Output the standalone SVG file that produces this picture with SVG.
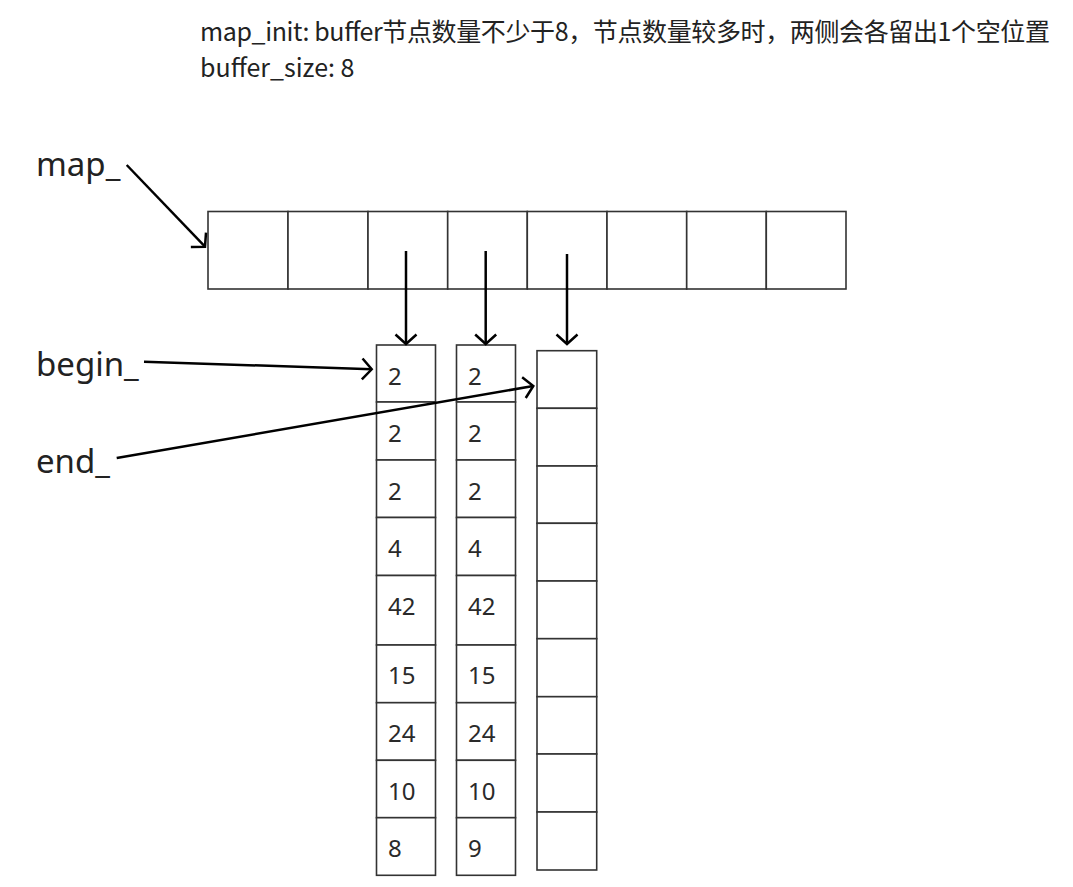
<svg xmlns="http://www.w3.org/2000/svg" width="1073" height="887" viewBox="0 0 1073 887">
<style>
.cell{fill:#fff;stroke:#333;stroke-width:1.6}
.num{font-family:"Noto Sans","Open Sans",sans-serif;font-size:24px;fill:#2a2a2a}
.lbl{font-family:"Noto Sans","Open Sans",sans-serif;font-size:33px;fill:#222}
.hdr{font-family:"Noto Sans CJK SC","Noto Sans",sans-serif;font-size:25px;fill:#222}
.arr{fill:none;stroke:#000;stroke-width:2.5;marker-end:url(#ah)}
</style>
<defs>
<marker id="ah" markerUnits="userSpaceOnUse" viewBox="-13 -13 16 26" markerWidth="16" markerHeight="26" refX="0" refY="0" orient="auto">
<path d="M-9.5,-10.5 L0,0 L-9.5,10.5" fill="none" stroke="#000" stroke-width="2.5"/>
</marker>
</defs>
<rect width="1073" height="887" fill="#fff"/>
<g id="header">
<text class="hdr" x="200" y="41" textLength="850" lengthAdjust="spacing">map_init: buffer节点数量不少于8，节点数量较多时，两侧会各留出1个空位置</text>
<text class="hdr" x="200" y="77">buffer_size: 8</text>
</g>
<g id="map">
<rect class="cell" x="208" y="211.5" width="80" height="77.5"/>
<rect class="cell" x="288" y="211.5" width="80" height="77.5"/>
<rect class="cell" x="368" y="211.5" width="79.7" height="77.5"/>
<rect class="cell" x="447.7" y="211.5" width="79.6" height="77.5"/>
<rect class="cell" x="527.3" y="211.5" width="79.7" height="77.5"/>
<rect class="cell" x="607" y="211.5" width="79.7" height="77.5"/>
<rect class="cell" x="686.7" y="211.5" width="79.6" height="77.5"/>
<rect class="cell" x="766.3" y="211.5" width="79.7" height="77.5"/>
</g>
<g id="label-map"><text class="lbl" x="36" y="176">map_</text></g>
<g id="label-begin"><text class="lbl" x="36" y="376">begin_</text></g>
<g id="label-end"><text class="lbl" x="36" y="473">end_</text></g>
<g id="buffer1">
<rect class="cell" x="376.5" y="345" width="59" height="57"/>
<rect class="cell" x="376.5" y="402" width="59" height="58"/>
<rect class="cell" x="376.5" y="460" width="59" height="57.5"/>
<rect class="cell" x="376.5" y="517.5" width="59" height="58"/>
<rect class="cell" x="376.5" y="575.5" width="59" height="69.5"/>
<rect class="cell" x="376.5" y="645" width="59" height="57.7"/>
<rect class="cell" x="376.5" y="702.7" width="59" height="57.6"/>
<rect class="cell" x="376.5" y="760.3" width="59" height="57.4"/>
<rect class="cell" x="376.5" y="817.7" width="59" height="57.6"/>
<text class="num" x="388" y="384.5">2</text>
<text class="num" x="388" y="441.7">2</text>
<text class="num" x="388" y="499.5">2</text>
<text class="num" x="388" y="557">4</text>
<text class="num" x="388" y="615">42</text>
<text class="num" x="388" y="684.3">15</text>
<text class="num" x="388" y="742.3">24</text>
<text class="num" x="388" y="800">10</text>
<text class="num" x="388" y="856.7">8</text>
</g>
<g id="buffer2">
<rect class="cell" x="456.5" y="345" width="59" height="57"/>
<rect class="cell" x="456.5" y="402" width="59" height="58"/>
<rect class="cell" x="456.5" y="460" width="59" height="57.5"/>
<rect class="cell" x="456.5" y="517.5" width="59" height="58"/>
<rect class="cell" x="456.5" y="575.5" width="59" height="69.5"/>
<rect class="cell" x="456.5" y="645" width="59" height="57.7"/>
<rect class="cell" x="456.5" y="702.7" width="59" height="57.6"/>
<rect class="cell" x="456.5" y="760.3" width="59" height="57.4"/>
<rect class="cell" x="456.5" y="817.7" width="59" height="57.6"/>
<text class="num" x="468" y="384.5">2</text>
<text class="num" x="468" y="441.7">2</text>
<text class="num" x="468" y="499.5">2</text>
<text class="num" x="468" y="557">4</text>
<text class="num" x="468" y="615">42</text>
<text class="num" x="468" y="684.3">15</text>
<text class="num" x="468" y="742.3">24</text>
<text class="num" x="468" y="800">10</text>
<text class="num" x="468" y="856.7">9</text>
</g>
<g id="buffer3">
<rect class="cell" x="537" y="350.7" width="59.7" height="57.6"/>
<rect class="cell" x="537" y="408.3" width="59.7" height="57.7"/>
<rect class="cell" x="537" y="466" width="59.7" height="57.3"/>
<rect class="cell" x="537" y="523.3" width="59.7" height="57.7"/>
<rect class="cell" x="537" y="581" width="59.7" height="57.7"/>
<rect class="cell" x="537" y="638.7" width="59.7" height="58"/>
<rect class="cell" x="537" y="696.7" width="59.7" height="57.3"/>
<rect class="cell" x="537" y="754" width="59.7" height="58"/>
<rect class="cell" x="537" y="812" width="59.7" height="58"/>
</g>
<g id="connectors">
<line class="arr" x1="126.7" y1="165" x2="205" y2="246.7"/>
<line class="arr" x1="406" y1="251" x2="406" y2="344"/>
<line class="arr" x1="485.7" y1="251" x2="485.7" y2="344"/>
<line class="arr" x1="567" y1="254" x2="567" y2="344"/>
<line class="arr" x1="144" y1="361.7" x2="371.7" y2="369.3"/>
<line class="arr" x1="116.7" y1="458" x2="533.3" y2="386"/>
</g>
</svg>
